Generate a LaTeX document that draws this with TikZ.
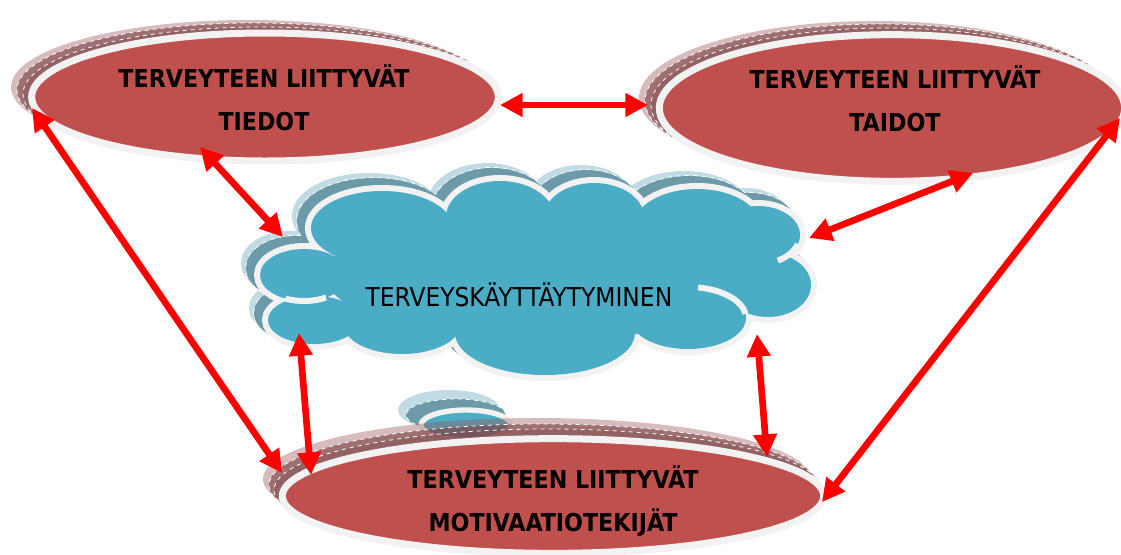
\documentclass[tikz,border=0pt]{standalone}
\usepackage{fontspec}
\setmainfont{DejaVu Sans Condensed}
\usetikzlibrary{shapes.geometric,arrows.meta}

\definecolor{ovalred}{HTML}{C0504D}
\definecolor{rimwhite}{HTML}{F2F2F2}
\definecolor{cloudblue}{HTML}{4BACC6}
\definecolor{arrowred}{HTML}{FF0000}
\definecolor{pinkshade}{HTML}{9E5558}
\definecolor{mauveshade}{HTML}{7C4245}
\definecolor{skyshade}{HTML}{C0DBE3}
\definecolor{tealshade}{HTML}{6D9AA8}

% lobes of the cloud: x/y/x radius/y radius
\newcommand\cloudlobes{540/275/215/66, 382/228/71/37, 500/217/54/36, 594/217/50/34,
  697/227/64/38, 758/235/42/29, 768/285/43/32, 688/318/58/31, 545/333/90/42,
  402/325/58/29, 314/320/46/24, 304/275/44/26}

\tikzset{
  oval/.style={ellipse, fill=ovalred, draw=rimwhite, line width=5.25pt, inner sep=0pt},
  ovaltext/.style={align=center, inner sep=0pt, font=\fontsize{18.5}{32}\selectfont\bfseries},
  shadeA/.style={fill=pinkshade, fill opacity=0.4},
  shadeB/.style={fill=mauveshade, fill opacity=0.62, draw=white, dashed, line width=0.6pt},
  shadeC/.style={fill=mauveshade, fill opacity=0.3, draw=white, dashed, line width=0.6pt},
  cloudA/.style={fill=skyshade, draw=skyshade, line width=9pt},
  cloudB/.style={fill=tealshade, draw=tealshade, line width=9pt},
  cloudseam/.style={draw=rimwhite, line width=4.5pt},
  link/.style={draw=arrowred, line width=5pt,
    arrows={Triangle[length=17pt,width=17pt]-Triangle[length=17pt,width=17pt]}},
}

\begin{document}
\begin{tikzpicture}[x=0.75pt, y=-0.75pt]
\path[use as bounding box, fill=white] (0,0) rectangle (1121,554);

% tiedot
\path[shadeA] (248,87) ellipse [x radius=237, y radius=67];
\path[shadeB] (254,90) ellipse [x radius=237, y radius=67];
\path[shadeC] (260,94) ellipse [x radius=237, y radius=67];
\node[oval, minimum width=350pt, minimum height=96pt] (tiedot) at (265,97) {};
\node[ovaltext] (tiedot-text) at (264,98) {TERVEYTEEN LIITTYVÄT\\TIEDOT};

% taidot
\path[shadeA] (875,98) ellipse [x radius=236, y radius=77];
\path[shadeB] (881,101) ellipse [x radius=236, y radius=77];
\path[shadeC] (887,105) ellipse [x radius=236, y radius=77];
\node[oval, minimum width=349pt, minimum height=110pt] (taidot) at (892,108) {};
\node[ovaltext] (taidot-text) at (895,99) {TERVEYTEEN LIITTYVÄT\\TAIDOT};

% cloud
\foreach \cx/\cy/\rx/\ry in \cloudlobes
  \path[cloudA] ({\cx-13},{\cy-12}) ellipse [x radius=\rx, y radius=\ry];
\foreach \cx/\cy/\rx/\ry in \cloudlobes
  \path[draw=white, dashed, line width=10.5pt] ({\cx-8},{\cy-7}) ellipse [x radius=\rx, y radius=\ry];
\foreach \cx/\cy/\rx/\ry in \cloudlobes
  \path[cloudB] ({\cx-8},{\cy-7}) ellipse [x radius=\rx, y radius=\ry];
\foreach \cx/\cy/\rx/\ry in \cloudlobes
  \path[draw=rimwhite, line width=9pt] (\cx,\cy) ellipse [x radius=\rx, y radius=\ry];
\foreach \cx/\cy/\rx/\ry in \cloudlobes
  \path[fill=cloudblue] (\cx,\cy) ellipse [x radius=\rx, y radius=\ry];
\draw[cloudseam] (304,275) ++(115:44 and 26) arc [start angle=115, end angle=60, x radius=44, y radius=26];
\draw[cloudseam] (688,318) ++(-80:58 and 31) arc [start angle=-80, end angle=-8, x radius=58, y radius=31];
\draw[cloudseam] (758,235) ++(18:42 and 29) arc [start angle=18, end angle=62, x radius=42, y radius=29];
\node[font=\fontsize{19.5}{24}\selectfont] (cloud) at (519,295) {TERVEYSKÄYTTÄYTYMINEN};

% small bubble
\path[fill=skyshade] (449,410) ellipse [x radius=51, y radius=20];
\path[fill=tealshade, draw=white, dashed, line width=0.6pt] (456,415) ellipse [x radius=50, y radius=16];
\path[fill=cloudblue, draw=rimwhite, line width=4pt] (466,425) ellipse [x radius=45, y radius=15];

% motivaatiotekijat
\path[shadeA] (537,479) ellipse [x radius=274, y radius=61];
\path[shadeB] (543,485) ellipse [x radius=274, y radius=61];
\path[shadeC] (548,490) ellipse [x radius=274, y radius=61];
\node[oval, minimum width=406pt, minimum height=86pt] (motiv) at (553,496) {};
\node[ovaltext] (motiv-text) at (553,501) {TERVEYTEEN LIITTYVÄT\\MOTIVAATIOTEKIJÄT};

% arrows
\draw[link] ([shift={(235,8)}]tiedot.center) -- ([shift={(-244,-3)}]taidot.center);
\draw[link] ([shift={(-65,50)}]tiedot.center) -- ([shift={(-236,-58)}]cloud.center);
\draw[link] ([shift={(81,65)}]taidot.center) -- ([shift={(290,-57)}]cloud.center);
\draw[link] ([shift={(-233,11)}]tiedot.center) -- ([shift={(-271,-23)}]motiv.center);
\draw[link] ([shift={(228,10)}]taidot.center) -- ([shift={(269,6)}]motiv.center);
\draw[link] ([shift={(-220,38)}]cloud.center) -- ([shift={(-242,-21)}]motiv.center);
\draw[link] ([shift={(238,39)}]cloud.center) -- ([shift={(214,-39)}]motiv.center);
\end{tikzpicture}
\end{document}
